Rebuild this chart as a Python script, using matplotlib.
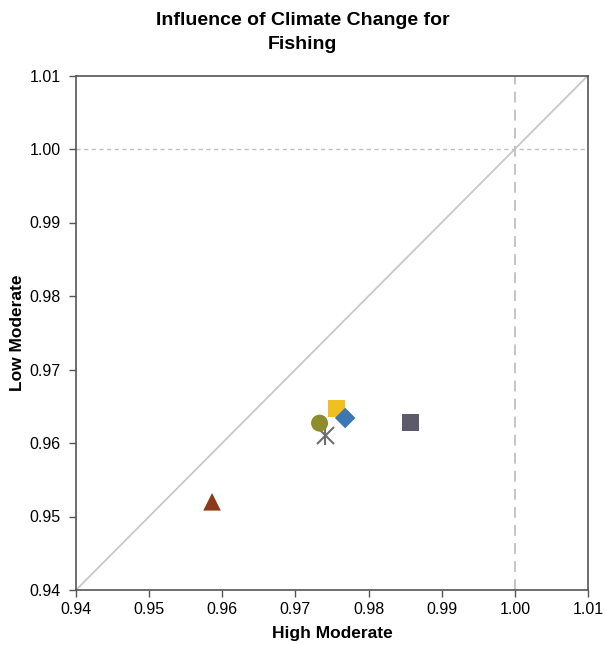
import matplotlib
matplotlib.use("Agg")
import matplotlib.pyplot as plt

plt.rcParams['font.family'] = ['Liberation Sans', 'DejaVu Sans']

# data
names = ["Triangle", "Circle", "Cross", "Square yellow", "Diamond", "Square gray"]
high_moderate = [0.9586, 0.9733, 0.9740, 0.9756, 0.9768, 0.9857]
low_moderate = [0.9520, 0.9627, 0.9611, 0.9647, 0.9634, 0.9628]
markers = ["^", "o", "x", "s", "D", "s"]
colors = ["#8B3A1A", "#8E8D2C", "#6E6E6E", "#F0C020", "#3B77B3", "#5D5A6C"]
sizes = [160, 150, 150, 150, 110, 150]
xticks = [0.94, 0.95, 0.96, 0.97, 0.98, 0.99, 1.00, 1.01]
yticks = [0.94, 0.95, 0.96, 0.97, 0.98, 0.99, 1.00, 1.01]

fig = plt.figure(figsize=(6.05, 6.45), dpi=100)
ax = fig.add_axes([76/605, 55/645, 512/605, 514.5/645])

ax.plot([0.94, 1.01], [0.94, 1.01], color="#C8C8C8", lw=1.3, zorder=1)
ax.axvline(1.00, color="#C0C0C0", lw=1.3, ls=(0, (6, 4)), zorder=1)
ax.axhline(1.00, color="#C0C0C0", lw=1.0, ls=(0, (3, 2.5)), zorder=1)

for x, y, m, c, s in zip(high_moderate, low_moderate, markers, colors, sizes):
    if m == "x":
        ax.scatter(x, y, marker="x", s=s, c=c, linewidths=1.5, zorder=2)
        ax.scatter(x, y, marker="|", s=s * 1.4, c=c, linewidths=1.5, zorder=2)
    else:
        ax.scatter(x, y, marker=m, s=s, c=c, edgecolors="none", zorder=3)

ax.set_xlim(0.94, 1.01)
ax.set_ylim(0.94, 1.01)
ax.set_xticks(xticks)
ax.set_yticks(yticks)
ax.set_xticklabels([f"{t:.2f}" for t in xticks])
ax.set_yticklabels([f"{t:.2f}" for t in yticks])
ax.tick_params(direction="out", length=5, width=1, color="#555555", labelsize=11.5)
ax.tick_params(axis="x", pad=4)
ax.tick_params(axis="y", pad=6)
for sp in ax.spines.values():
    sp.set_color("#555555")
    sp.set_linewidth(1.2)

ax.set_xlabel("High Moderate", fontsize=12.5, fontweight="bold", labelpad=6)
ax.set_ylabel("Low Moderate", fontsize=12.5, fontweight="bold", labelpad=3)
fig.text(0.5, 0.982, "Influence of Climate Change for\nFishing", ha="center", va="top",
         fontsize=14, fontweight="bold", linespacing=1.6)

fig.savefig("out.png", dpi=100)
